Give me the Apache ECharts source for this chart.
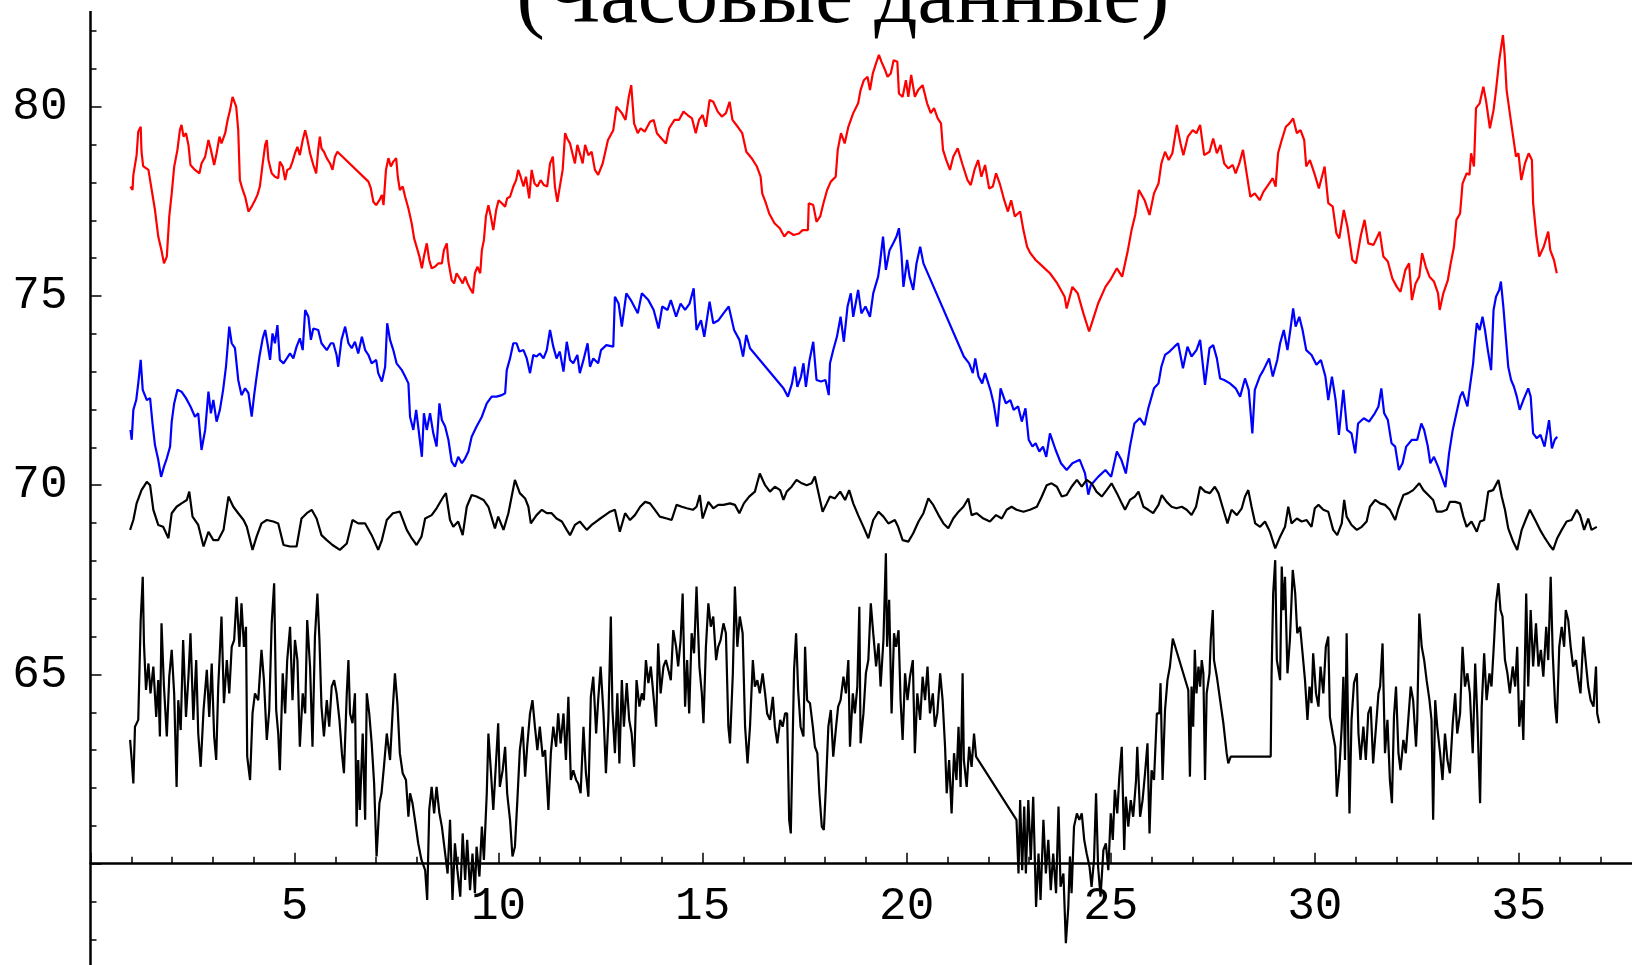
<!DOCTYPE html>
<html>
<head>
<meta charset="utf-8">
<script src="https://cdn.jsdelivr.net/npm/echarts/dist/echarts.min.js"></script>
<style>
html,body{margin:0;padding:0;background:#fff;}
#chart{width:1632px;height:965px;}
</style>
</head>
<body>
<div id="chart"></div>
<script>
const titleText = '(Часовые данные)';
const yTickLabels = [65, 70, 75, 80];
const xTickLabels = [5, 10, 15, 20, 25, 30, 35];

const redSeries = [[0.98,77.89],[1.03,77.8],[1.05,78.2],[1.13,78.72],[1.17,79.34],[1.23,79.47],[1.25,78.81],[1.29,78.43],[1.42,78.33],[1.5,77.8],[1.58,77.27],[1.66,76.57],[1.74,76.2],[1.8,75.86],[1.87,76.04],[1.93,77.1],[1.99,77.71],[2.05,78.41],[2.13,78.86],[2.19,79.38],[2.23,79.52],[2.28,79.21],[2.34,79.3],[2.4,78.99],[2.45,78.46],[2.56,78.33],[2.67,78.24],[2.72,78.5],[2.81,78.68],[2.89,79.12],[2.95,78.86],[3.03,78.46],[3.09,78.77],[3.16,79.21],[3.21,79.03],[3.3,79.3],[3.36,79.65],[3.42,79.91],[3.48,80.26],[3.52,80.31],[3.57,80.0],[3.62,79.38],[3.66,78.06],[3.73,77.8],[3.79,77.62],[3.87,77.23],[3.95,77.36],[4.03,77.53],[4.09,77.67],[4.15,77.89],[4.22,78.5],[4.28,78.99],[4.32,79.12],[4.36,78.59],[4.44,78.24],[4.52,78.15],[4.6,78.11],[4.64,78.55],[4.71,78.42],[4.77,78.06],[4.82,78.33],[4.89,78.37],[4.95,78.55],[5.01,78.77],[5.07,78.94],[5.13,78.72],[5.2,79.12],[5.26,79.38],[5.31,79.16],[5.38,78.77],[5.46,78.46],[5.53,78.24],[5.58,78.86],[5.62,79.21],[5.66,78.9],[5.72,78.81],[5.79,78.64],[5.87,78.5],[5.93,78.33],[5.99,78.68],[6.05,78.81],[6.81,78.02],[6.87,77.84],[6.93,77.49],[7.0,77.4],[7.08,77.53],[7.14,77.67],[7.18,77.4],[7.24,78.33],[7.3,78.64],[7.36,78.42],[7.42,78.55],[7.49,78.64],[7.53,78.15],[7.58,77.8],[7.65,77.89],[7.71,77.62],[7.79,77.31],[7.87,76.92],[7.93,76.52],[7.99,76.3],[8.06,76.04],[8.12,75.73],[8.17,76.04],[8.24,76.39],[8.3,75.95],[8.36,75.73],[8.44,75.77],[8.52,75.86],[8.61,75.86],[8.66,76.21],[8.73,76.39],[8.77,75.91],[8.85,75.42],[8.91,75.33],[8.97,75.6],[9.05,75.46],[9.12,75.33],[9.18,75.51],[9.24,75.33],[9.3,75.2],[9.37,75.07],[9.42,75.6],[9.48,75.77],[9.55,75.6],[9.59,76.21],[9.64,76.48],[9.69,77.1],[9.75,77.4],[9.81,77.1],[9.87,76.74],[9.94,77.27],[10.0,77.53],[10.08,77.45],[10.16,77.36],[10.21,77.58],[10.28,77.62],[10.36,77.89],[10.43,78.06],[10.48,78.33],[10.54,78.15],[10.61,77.89],[10.67,78.15],[10.75,77.58],[10.81,78.33],[10.88,77.97],[10.95,77.89],[11.03,78.06],[11.11,77.93],[11.19,77.89],[11.26,78.5],[11.33,78.68],[11.38,77.89],[11.44,77.49],[11.5,77.89],[11.57,78.33],[11.63,79.3],[11.68,79.16],[11.75,79.03],[11.82,78.72],[11.87,78.5],[11.93,78.99],[11.99,78.77],[12.06,78.5],[12.12,78.99],[12.2,78.72],[12.28,78.81],[12.36,78.33],[12.44,78.2],[12.55,78.5],[12.68,79.12],[12.81,79.38],[12.89,80.0],[13.02,79.83],[13.11,79.65],[13.19,80.26],[13.25,80.57],[13.32,79.56],[13.41,79.3],[13.48,79.43],[13.58,79.34],[13.71,79.6],[13.8,79.65],[13.88,79.3],[13.99,79.16],[14.1,79.03],[14.18,79.43],[14.31,79.65],[14.42,79.65],[14.53,79.87],[14.63,79.78],[14.74,79.69],[14.83,79.3],[14.91,79.65],[15.0,79.78],[15.08,79.47],[15.17,80.18],[15.26,80.13],[15.37,79.87],[15.47,79.74],[15.57,79.83],[15.66,80.13],[15.73,79.65],[15.86,79.47],[15.97,79.3],[16.07,78.81],[16.2,78.64],[16.33,78.42],[16.42,78.15],[16.46,77.71],[16.55,77.45],[16.63,77.18],[16.76,76.92],[16.89,76.79],[17.0,76.57],[17.1,76.7],[17.23,76.61],[17.36,76.65],[17.45,76.74],[17.58,76.74],[17.6,77.45],[17.71,77.4],[17.79,76.96],[17.88,77.1],[17.96,77.45],[18.05,77.8],[18.14,78.02],[18.26,78.15],[18.31,78.86],[18.39,79.3],[18.48,79.03],[18.57,79.47],[18.69,79.83],[18.81,80.09],[18.87,80.44],[18.95,80.7],[19.04,80.79],[19.1,80.44],[19.17,80.88],[19.25,81.15],[19.32,81.37],[19.38,81.19],[19.47,80.97],[19.53,80.79],[19.61,80.88],[19.68,81.23],[19.77,81.19],[19.81,80.35],[19.9,80.26],[19.98,80.7],[20.04,80.26],[20.11,80.84],[20.2,80.26],[20.28,80.44],[20.39,80.57],[20.5,80.09],[20.59,79.83],[20.67,79.96],[20.76,79.69],[20.84,79.56],[20.89,78.86],[20.97,78.59],[21.06,78.33],[21.14,78.68],[21.25,78.9],[21.36,78.5],[21.49,78.06],[21.57,77.93],[21.66,78.33],[21.75,78.59],[21.83,78.15],[21.92,78.46],[22.02,77.84],[22.11,77.89],[22.19,78.24],[22.28,77.97],[22.39,77.53],[22.48,77.23],[22.56,77.53],[22.65,77.1],[22.78,77.23],[22.86,76.74],[22.95,76.3],[23.03,76.13],[23.16,75.95],[23.29,75.82],[23.42,75.69],[23.51,75.6],[23.69,75.33],[23.87,74.98],[23.92,74.67],[24.06,75.24],[24.19,75.07],[24.33,74.54],[24.47,74.06],[24.56,74.36],[24.69,74.8],[24.87,75.24],[25.01,75.46],[25.15,75.73],[25.28,75.51],[25.42,76.21],[25.51,76.74],[25.6,77.14],[25.69,77.8],[25.83,77.53],[25.95,77.14],[26.06,77.71],[26.17,77.97],[26.24,78.5],[26.33,78.81],[26.42,78.59],[26.51,78.77],[26.62,79.52],[26.71,79.03],[26.78,78.72],[26.89,79.21],[27.01,79.38],[27.1,79.3],[27.19,79.52],[27.29,78.72],[27.42,78.81],[27.51,79.16],[27.6,78.77],[27.69,78.99],[27.78,78.5],[27.88,78.37],[27.99,78.46],[28.06,78.24],[28.15,78.5],[28.24,78.86],[28.33,78.24],[28.42,77.62],[28.53,77.71],[28.65,77.53],[28.74,77.75],[28.88,77.97],[28.97,78.11],[29.04,77.89],[29.1,78.77],[29.19,79.12],[29.29,79.47],[29.38,79.56],[29.47,79.69],[29.56,79.3],[29.65,79.38],[29.74,79.12],[29.79,78.42],[29.88,78.59],[29.99,78.24],[30.1,77.84],[30.24,78.42],[30.33,77.45],[30.44,77.36],[30.53,76.65],[30.6,76.52],[30.71,77.27],[30.8,76.83],[30.92,75.95],[31.01,75.86],[31.13,76.61],[31.22,77.01],[31.31,76.39],[31.44,76.35],[31.59,76.7],[31.68,76.04],[31.79,75.91],[31.9,75.46],[32.01,75.24],[32.1,75.11],[32.22,75.69],[32.31,75.86],[32.38,74.89],[32.47,75.33],[32.56,75.51],[32.63,76.13],[32.72,75.77],[32.81,75.51],[32.92,75.38],[33.02,75.07],[33.06,74.63],[33.15,75.07],[33.26,75.42],[33.33,75.86],[33.41,76.3],[33.47,77.01],[33.56,77.18],[33.62,77.97],[33.72,78.24],[33.79,78.2],[33.83,78.77],[33.9,78.42],[33.95,79.96],[34.04,80.09],[34.13,80.53],[34.2,80.13],[34.29,79.43],[34.38,79.91],[34.44,80.44],[34.52,81.23],[34.61,81.89],[34.65,81.41],[34.7,80.44],[34.79,79.74],[34.86,79.21],[34.93,78.68],[34.99,78.77],[35.06,78.06],[35.15,78.5],[35.24,78.77],[35.32,78.59],[35.35,77.45],[35.43,76.57],[35.5,76.04],[35.61,76.3],[35.72,76.7],[35.77,76.21],[35.86,75.95],[35.93,75.6]];

const blueSeries = [[0.98,71.46],[1.01,71.2],[1.05,71.99],[1.12,72.25],[1.17,72.69],[1.23,73.31],[1.28,72.52],[1.38,72.25],[1.46,72.3],[1.52,71.63],[1.58,71.06],[1.66,70.67],[1.73,70.22],[1.8,70.49],[1.87,70.71],[1.95,71.02],[1.99,71.68],[2.05,72.16],[2.13,72.52],[2.23,72.47],[2.34,72.3],[2.45,72.08],[2.56,71.81],[2.64,71.9],[2.72,70.93],[2.81,71.46],[2.89,72.47],[2.95,71.9],[3.01,72.25],[3.09,71.68],[3.17,71.99],[3.25,72.52],[3.32,73.13],[3.4,74.19],[3.46,73.75],[3.54,73.62],[3.62,72.78],[3.7,72.38],[3.79,72.56],[3.87,72.43],[3.95,71.81],[4.01,72.38],[4.07,72.87],[4.14,73.4],[4.22,73.88],[4.28,74.1],[4.33,73.79],[4.4,73.31],[4.46,74.01],[4.52,73.75],[4.58,74.23],[4.64,73.31],[4.73,73.22],[4.81,73.35],[4.89,73.48],[4.97,73.35],[5.05,73.66],[5.13,73.88],[5.2,73.57],[5.26,74.63],[5.34,74.45],[5.4,73.84],[5.46,74.14],[5.58,74.1],[5.66,73.75],[5.79,73.57],[5.89,73.75],[5.95,73.75],[6.03,73.44],[6.07,73.13],[6.15,73.84],[6.24,74.19],[6.32,73.75],[6.4,73.62],[6.48,73.79],[6.56,73.48],[6.65,73.92],[6.73,73.57],[6.81,73.44],[6.89,73.22],[7.0,73.31],[7.05,72.96],[7.14,72.74],[7.22,73.13],[7.27,74.28],[7.34,73.84],[7.42,73.57],[7.5,73.22],[7.63,73.04],[7.71,72.87],[7.79,72.69],[7.83,71.81],[7.91,71.46],[7.98,71.99],[8.06,71.28],[8.12,70.75],[8.17,71.9],[8.24,71.46],[8.32,71.9],[8.4,71.37],[8.48,71.02],[8.55,72.16],[8.61,71.72],[8.69,71.55],[8.77,71.2],[8.85,70.62],[8.93,70.49],[9.01,70.75],[9.1,70.58],[9.18,70.71],[9.26,70.89],[9.34,71.28],[9.46,71.55],[9.59,71.81],[9.71,72.16],[9.83,72.34],[9.95,72.34],[10.08,72.38],[10.16,72.43],[10.2,73.04],[10.28,73.35],[10.36,73.75],[10.44,73.75],[10.51,73.53],[10.61,73.57],[10.69,73.35],[10.77,72.96],[10.85,73.44],[10.93,73.4],[11.01,73.48],[11.1,73.35],[11.18,73.57],[11.26,74.1],[11.34,73.66],[11.42,73.35],[11.5,73.53],[11.59,73.0],[11.67,73.79],[11.75,73.31],[11.83,73.22],[11.93,73.44],[11.99,72.96],[12.08,73.31],[12.18,73.75],[12.24,73.13],[12.32,73.35],[12.44,73.22],[12.51,73.57],[12.64,73.7],[12.81,73.66],[12.85,74.98],[12.94,74.8],[13.02,74.19],[13.13,75.07],[13.24,74.89],[13.41,74.54],[13.51,75.07],[13.67,74.89],[13.8,74.63],[13.92,74.14],[14.01,74.72],[14.14,74.63],[14.22,74.89],[14.35,74.45],[14.46,74.8],[14.57,74.63],[14.68,74.8],[14.78,75.2],[14.85,74.1],[14.96,74.36],[15.04,73.92],[15.17,74.85],[15.26,74.28],[15.39,74.36],[15.51,74.54],[15.64,74.72],[15.77,74.1],[15.9,73.84],[15.99,73.4],[16.07,73.97],[16.16,73.62],[16.98,72.56],[17.09,72.34],[17.19,72.69],[17.26,73.13],[17.32,72.6],[17.41,72.87],[17.47,73.22],[17.53,72.6],[17.62,73.31],[17.71,73.79],[17.79,72.78],[17.9,72.74],[18.01,72.78],[18.09,72.38],[18.12,73.22],[18.2,73.57],[18.29,73.92],[18.38,74.45],[18.46,73.79],[18.55,74.72],[18.63,75.07],[18.69,74.45],[18.81,75.16],[18.89,74.54],[18.99,74.72],[19.1,74.45],[19.18,75.07],[19.3,75.51],[19.34,75.82],[19.42,76.57],[19.49,75.69],[19.58,76.21],[19.67,76.39],[19.75,76.57],[19.81,76.79],[19.87,76.13],[19.92,75.24],[20.01,75.95],[20.07,75.51],[20.16,75.16],[20.24,75.86],[20.33,76.3],[20.41,75.86],[21.4,73.4],[21.53,73.22],[21.62,72.96],[21.68,73.35],[21.76,72.87],[21.85,72.69],[21.92,72.96],[22.05,72.52],[22.13,72.16],[22.22,71.55],[22.3,72.56],[22.43,72.16],[22.54,72.25],[22.62,71.99],[22.73,72.08],[22.82,71.68],[22.91,72.03],[22.99,71.2],[23.08,71.02],[23.16,71.11],[23.25,70.89],[23.34,71.02],[23.42,70.75],[23.51,71.37],[23.65,70.93],[23.78,70.58],[23.92,70.4],[24.06,70.58],[24.24,70.67],[24.37,70.31],[24.45,69.75],[24.51,70.0],[24.69,70.22],[24.87,70.4],[25.01,70.22],[25.15,70.89],[25.26,70.67],[25.37,70.31],[25.47,71.02],[25.58,71.63],[25.71,71.77],[25.83,71.59],[25.92,72.03],[26.06,72.56],[26.17,72.69],[26.24,73.13],[26.33,73.44],[26.44,73.53],[26.56,73.66],[26.65,73.75],[26.77,73.09],[26.88,73.66],[26.98,73.4],[27.1,73.57],[27.19,73.84],[27.31,72.65],[27.42,73.62],[27.51,73.7],[27.6,73.35],[27.68,72.82],[27.78,72.78],[27.92,72.69],[28.06,72.56],[28.17,72.34],[28.29,72.82],[28.38,72.52],[28.47,71.37],[28.53,72.52],[28.65,72.87],[28.74,73.04],[28.88,73.35],[28.97,72.87],[29.08,73.31],[29.15,73.75],[29.24,74.1],[29.33,73.57],[29.4,74.1],[29.47,74.67],[29.53,74.19],[29.62,74.45],[29.7,74.1],[29.79,73.57],[29.92,73.44],[30.04,73.18],[30.15,73.31],[30.26,72.87],[30.33,72.25],[30.42,72.87],[30.51,72.25],[30.59,71.33],[30.7,72.52],[30.79,71.46],[30.9,71.37],[30.99,70.84],[31.06,71.63],[31.2,71.77],[31.33,71.68],[31.47,71.9],[31.56,72.08],[31.63,72.56],[31.7,71.9],[31.79,71.72],[31.88,71.11],[31.97,71.02],[32.06,70.4],[32.15,70.58],[32.24,71.02],[32.38,71.2],[32.51,71.2],[32.61,71.63],[32.68,71.46],[32.77,71.02],[32.83,70.58],[32.92,70.75],[33.02,70.49],[33.11,70.22],[33.2,69.95],[33.29,70.84],[33.38,71.46],[33.47,71.9],[33.56,72.34],[33.62,72.47],[33.74,72.08],[33.79,72.52],[33.88,73.22],[33.92,73.75],[33.97,74.28],[34.04,74.1],[34.11,74.45],[34.17,74.1],[34.24,73.57],[34.32,73.04],[34.38,74.63],[34.44,74.98],[34.52,75.16],[34.56,75.38],[34.62,74.72],[34.68,73.92],[34.74,73.13],[34.81,72.78],[34.88,72.6],[34.95,72.34],[35.02,71.99],[35.11,72.25],[35.23,72.56],[35.29,72.34],[35.35,71.37],[35.44,71.24],[35.53,71.33],[35.63,71.02],[35.74,71.72],[35.81,70.97],[35.88,71.2],[35.94,71.28]];

const upperBlackSeries = [[0.97,68.82],[1.05,69.08],[1.13,69.52],[1.25,69.87],[1.38,70.09],[1.46,70.0],[1.54,69.35],[1.66,68.95],[1.78,68.9],[1.91,68.6],[1.99,69.26],[2.11,69.43],[2.23,69.52],[2.36,69.61],[2.42,69.83],[2.5,69.17],[2.64,68.95],[2.77,68.38],[2.89,68.77],[3.01,68.55],[3.13,68.55],[3.26,68.82],[3.38,69.7],[3.5,69.43],[3.62,69.26],[3.75,69.08],[3.83,68.9],[3.97,68.29],[4.07,68.64],[4.19,68.99],[4.32,69.08],[4.48,69.04],[4.6,68.99],[4.73,68.42],[4.89,68.38],[5.05,68.38],[5.17,69.12],[5.3,69.26],[5.42,69.35],[5.54,69.12],[5.66,68.68],[5.79,68.55],[5.93,68.42],[6.11,68.29],[6.28,68.46],[6.42,69.08],[6.56,68.99],[6.73,68.99],[6.89,68.68],[7.05,68.29],[7.14,68.55],[7.26,69.08],[7.41,69.26],[7.58,69.3],[7.75,68.82],[7.87,68.6],[7.99,68.42],[8.11,68.64],[8.2,69.12],[8.36,69.21],[8.48,69.39],[8.65,69.7],[8.71,69.79],[8.81,69.08],[8.89,68.9],[9.01,69.04],[9.12,68.68],[9.22,69.43],[9.34,69.74],[9.46,69.7],[9.63,69.61],[9.75,69.43],[9.91,68.86],[9.99,69.17],[10.12,68.82],[10.24,69.26],[10.32,69.7],[10.4,70.14],[10.52,69.79],[10.65,69.65],[10.73,69.43],[10.79,68.99],[10.93,69.21],[11.06,69.35],[11.18,69.26],[11.3,69.26],[11.42,69.12],[11.55,69.04],[11.67,68.82],[11.75,68.68],[11.87,68.95],[11.99,69.04],[12.16,68.82],[12.28,68.95],[12.44,69.08],[12.61,69.21],[12.73,69.3],[12.85,69.35],[12.97,68.77],[13.1,69.26],[13.22,69.08],[13.34,69.21],[13.47,69.43],[13.59,69.56],[13.71,69.52],[13.83,69.35],[13.95,69.17],[14.12,69.12],[14.24,69.08],[14.36,69.48],[14.49,69.43],[14.61,69.39],[14.76,69.35],[14.85,69.43],[14.93,69.74],[15.0,69.12],[15.14,69.56],[15.26,69.39],[15.38,69.48],[15.51,69.48],[15.67,69.52],[15.79,69.48],[15.9,69.26],[16.01,69.52],[16.14,69.7],[16.28,69.83],[16.4,70.31],[16.53,70.0],[16.65,69.83],[16.77,69.96],[16.9,69.87],[16.98,69.61],[17.06,69.83],[17.18,69.96],[17.3,70.14],[17.43,70.05],[17.55,70.0],[17.67,70.05],[17.75,70.23],[17.84,69.79],[17.94,69.3],[18.04,69.52],[18.12,69.7],[18.24,69.65],[18.37,69.83],[18.49,69.61],[18.59,69.87],[18.69,69.52],[18.81,69.21],[18.94,68.9],[19.06,68.6],[19.18,69.08],[19.31,69.3],[19.43,69.17],[19.55,68.99],[19.71,69.08],[19.79,68.9],[19.9,68.55],[20.04,68.51],[20.16,68.73],[20.29,69.04],[20.41,69.26],[20.53,69.65],[20.65,69.48],[20.78,69.21],[20.9,68.99],[21.02,68.86],[21.14,69.12],[21.27,69.3],[21.39,69.43],[21.51,69.65],[21.59,69.21],[21.71,69.26],[21.88,69.12],[22.04,69.04],[22.19,69.21],[22.33,69.12],[22.45,69.35],[22.57,69.43],[22.69,69.35],[22.86,69.3],[23.02,69.35],[23.19,69.43],[23.31,69.7],[23.43,70.0],[23.55,70.05],[23.68,69.96],[23.8,69.7],[23.92,69.74],[24.04,69.96],[24.17,70.14],[24.29,69.96],[24.41,70.14],[24.53,70.05],[24.65,69.83],[24.78,69.7],[24.9,69.87],[25.02,70.05],[25.15,69.79],[25.27,69.52],[25.35,69.35],[25.47,69.61],[25.59,69.7],[25.68,69.83],[25.8,69.43],[25.92,69.35],[26.04,69.26],[26.17,69.48],[26.25,69.74],[26.37,69.56],[26.49,69.43],[26.61,69.39],[26.74,69.43],[26.86,69.35],[26.98,69.21],[27.09,69.43],[27.19,69.96],[27.31,69.83],[27.43,69.79],[27.55,69.96],[27.64,69.79],[27.76,69.35],[27.86,68.99],[27.96,69.35],[28.09,69.21],[28.21,69.39],[28.29,69.7],[28.37,69.87],[28.45,69.43],[28.54,68.99],[28.66,68.9],[28.78,69.04],[28.9,68.77],[29.03,68.33],[29.15,68.64],[29.27,68.9],[29.35,69.43],[29.43,68.99],[29.56,69.12],[29.68,69.04],[29.8,69.08],[29.92,68.9],[30.0,69.39],[30.09,69.48],[30.21,69.35],[30.33,69.3],[30.45,68.82],[30.55,68.68],[30.66,68.99],[30.72,69.61],[30.78,69.17],[30.9,68.95],[31.03,68.82],[31.15,68.9],[31.27,69.04],[31.35,69.43],[31.48,69.61],[31.6,69.52],[31.72,69.48],[31.84,69.35],[31.97,69.08],[32.05,69.39],[32.17,69.74],[32.29,69.79],[32.41,69.87],[32.56,70.05],[32.66,69.87],[32.78,69.74],[32.9,69.61],[32.99,69.3],[33.11,69.3],[33.23,69.35],[33.31,69.56],[33.44,69.56],[33.56,69.52],[33.64,69.17],[33.72,68.9],[33.84,69.04],[33.97,68.77],[34.05,69.04],[34.15,69.08],[34.25,69.83],[34.37,69.87],[34.5,70.14],[34.58,69.7],[34.66,69.35],[34.74,68.86],[34.86,68.51],[34.96,68.29],[35.07,68.82],[35.18,69.12],[35.27,69.35],[35.4,69.08],[35.52,68.82],[35.64,68.6],[35.75,68.42],[35.84,68.29],[35.94,68.6],[36.05,68.82],[36.17,69.04],[36.29,69.08],[36.42,69.35],[36.5,69.21],[36.6,68.82],[36.7,69.12],[36.78,68.82],[36.91,68.9]];

const lowerBlackSeries = [[0.97,63.27],[1.01,62.74],[1.05,62.12],[1.09,63.62],[1.17,63.8],[1.23,66.44],[1.28,67.58],[1.31,65.82],[1.36,64.59],[1.42,65.29],[1.47,64.5],[1.54,65.21],[1.61,63.88],[1.66,64.85],[1.7,63.36],[1.74,66.35],[1.8,64.68],[1.87,63.36],[1.93,64.94],[1.99,65.65],[2.05,64.5],[2.11,62.03],[2.15,64.32],[2.21,63.53],[2.27,65.91],[2.34,63.88],[2.4,64.94],[2.45,66.09],[2.52,63.8],[2.59,65.38],[2.64,63.44],[2.7,62.56],[2.77,64.06],[2.85,65.12],[2.91,63.88],[2.97,65.29],[3.03,63.36],[3.08,62.74],[3.13,64.68],[3.21,66.53],[3.27,64.24],[3.34,65.38],[3.4,64.5],[3.46,65.73],[3.52,65.91],[3.58,67.05],[3.65,65.73],[3.7,66.88],[3.76,65.73],[3.81,66.26],[3.84,62.83],[3.91,62.21],[3.97,63.97],[4.03,64.5],[4.11,64.32],[4.19,65.65],[4.25,64.85],[4.32,63.27],[4.38,64.06],[4.44,66.35],[4.5,67.41],[4.55,64.06],[4.6,63.44],[4.64,62.47],[4.71,65.03],[4.77,63.97],[4.82,65.38],[4.89,66.26],[4.95,64.32],[5.01,65.91],[5.07,65.38],[5.13,63.09],[5.2,64.5],[5.26,63.97],[5.31,66.44],[5.38,65.21],[5.44,63.09],[5.5,66.0],[5.56,67.14],[5.61,65.91],[5.66,64.15],[5.72,63.36],[5.79,64.32],[5.85,63.62],[5.91,64.68],[5.97,64.85],[6.03,64.5],[6.1,63.8],[6.16,62.92],[6.21,62.39],[6.28,64.5],[6.32,65.38],[6.36,63.97],[6.42,63.71],[6.48,64.5],[6.52,60.98],[6.56,62.74],[6.6,61.42],[6.67,63.44],[6.73,61.16],[6.77,64.5],[6.83,63.97],[6.89,63.18],[6.95,62.12],[7.01,60.19],[7.08,61.6],[7.13,61.86],[7.19,62.56],[7.26,63.44],[7.34,62.74],[7.41,64.15],[7.46,65.03],[7.52,64.24],[7.58,62.92],[7.65,62.39],[7.73,62.21],[7.79,61.24],[7.83,61.86],[7.89,61.6],[7.95,61.16],[8.03,60.54],[8.11,60.1],[8.2,59.83],[8.25,59.04],[8.3,61.42],[8.36,62.03],[8.42,61.33],[8.48,62.03],[8.55,61.33],[8.61,60.98],[8.69,60.27],[8.75,59.74],[8.81,61.16],[8.87,59.04],[8.93,60.54],[8.99,59.83],[9.06,59.13],[9.12,60.8],[9.18,59.57],[9.23,60.63],[9.3,59.3],[9.36,60.27],[9.42,59.22],[9.46,60.45],[9.53,59.66],[9.59,60.98],[9.64,60.1],[9.71,61.86],[9.75,63.44],[9.81,62.47],[9.87,61.42],[9.94,62.74],[9.99,63.71],[10.03,62.03],[10.1,62.47],[10.16,63.09],[10.21,61.86],[10.28,61.16],[10.34,60.19],[10.4,60.45],[10.46,61.68],[10.52,63.0],[10.59,63.62],[10.65,62.3],[10.7,63.09],[10.77,63.97],[10.83,64.32],[10.89,63.62],[10.95,63.0],[11.01,63.62],[11.08,62.83],[11.14,63.0],[11.22,61.42],[11.28,62.92],[11.34,63.62],[11.41,63.09],[11.46,63.97],[11.52,63.18],[11.59,63.97],[11.65,62.74],[11.71,64.41],[11.77,62.21],[11.83,62.47],[11.9,62.21],[11.95,62.12],[12.01,61.86],[12.08,63.62],[12.14,62.39],[12.2,61.77],[12.26,64.41],[12.32,64.94],[12.39,63.44],[12.44,64.32],[12.5,65.21],[12.57,63.97],[12.63,62.39],[12.69,63.8],[12.75,66.53],[12.79,64.06],[12.85,62.92],[12.91,64.5],[12.96,62.65],[13.02,64.85],[13.07,63.62],[13.14,64.77],[13.2,63.8],[13.26,63.44],[13.32,62.56],[13.38,64.85],[13.45,64.15],[13.51,64.5],[13.56,64.32],[13.61,65.38],[13.67,64.77],[13.73,65.21],[13.79,64.5],[13.86,63.62],[13.91,65.82],[13.97,64.5],[14.04,65.21],[14.1,65.38],[14.16,65.12],[14.22,64.85],[14.28,66.17],[14.35,65.73],[14.4,65.21],[14.46,65.91],[14.51,67.14],[14.57,64.15],[14.62,65.38],[14.67,63.97],[14.73,66.09],[14.79,65.56],[14.85,67.32],[14.92,65.21],[14.98,64.5],[15.02,63.71],[15.08,65.73],[15.14,66.88],[15.2,66.26],[15.26,66.53],[15.33,65.38],[15.38,65.73],[15.44,65.91],[15.51,66.35],[15.57,66.09],[15.63,63.62],[15.67,63.18],[15.74,65.03],[15.79,67.32],[15.85,65.73],[15.91,66.53],[15.98,66.09],[16.04,63.62],[16.1,62.65],[16.16,63.62],[16.23,65.38],[16.28,64.68],[16.34,64.85],[16.4,64.5],[16.47,65.03],[16.53,64.5],[16.58,63.97],[16.65,63.8],[16.72,64.41],[16.77,63.62],[16.83,63.18],[16.9,63.8],[16.96,63.62],[17.02,63.97],[17.07,63.97],[17.12,61.16],[17.16,60.8],[17.19,62.39],[17.24,65.12],[17.29,66.09],[17.34,64.59],[17.4,63.62],[17.47,63.36],[17.51,65.73],[17.56,64.32],[17.63,64.24],[17.7,63.62],[17.75,63.09],[17.81,62.92],[17.86,61.86],[17.92,60.98],[17.97,60.89],[18.02,62.03],[18.08,63.62],[18.14,64.06],[18.2,62.83],[18.27,63.62],[18.32,64.15],[18.38,64.32],[18.45,64.94],[18.51,64.5],[18.57,65.38],[18.61,63.09],[18.68,64.5],[18.73,63.97],[18.79,64.68],[18.84,66.79],[18.87,63.18],[18.94,63.97],[19.0,65.03],[19.06,65.38],[19.12,66.88],[19.18,66.09],[19.25,65.21],[19.31,65.82],[19.36,64.68],[19.43,65.91],[19.49,68.2],[19.52,65.73],[19.57,66.97],[19.63,63.97],[19.69,66.09],[19.74,65.73],[19.8,66.17],[19.85,64.32],[19.9,63.27],[19.96,65.03],[20.02,64.32],[20.08,64.94],[20.15,65.38],[20.2,62.92],[20.26,64.5],[20.33,63.8],[20.39,64.94],[20.45,64.32],[20.51,65.21],[20.57,63.97],[20.64,64.5],[20.69,63.62],[20.75,63.97],[20.82,65.03],[20.88,64.32],[20.94,63.09],[20.98,61.86],[21.04,62.74],[21.1,61.33],[21.16,62.92],[21.22,62.21],[21.27,63.62],[21.32,62.03],[21.37,65.03],[21.4,62.74],[21.47,62.03],[21.53,63.09],[21.59,62.56],[21.65,63.44],[21.7,62.83],[22.69,61.16],[22.74,59.74],[22.78,61.68],[22.83,59.83],[22.88,61.51],[22.92,59.74],[22.98,61.68],[23.04,60.1],[23.1,61.77],[23.17,58.86],[23.23,60.27],[23.28,59.04],[23.35,61.16],[23.41,59.74],[23.47,60.63],[23.53,59.3],[23.59,60.27],[23.66,59.22],[23.72,61.51],[23.77,59.39],[23.84,59.74],[23.9,57.9],[23.96,58.86],[24.0,60.19],[24.04,59.22],[24.1,60.98],[24.17,61.33],[24.23,61.16],[24.29,61.33],[24.35,60.63],[24.41,60.27],[24.48,59.92],[24.53,59.39],[24.59,60.1],[24.64,61.86],[24.69,59.92],[24.75,59.13],[24.82,60.36],[24.88,60.54],[24.94,59.83],[25.0,61.33],[25.05,60.63],[25.1,61.95],[25.16,61.33],[25.21,62.3],[25.27,63.09],[25.33,60.36],[25.37,61.77],[25.43,60.98],[25.49,61.68],[25.55,61.24],[25.62,62.21],[25.65,63.09],[25.72,61.24],[25.78,61.68],[25.84,62.39],[25.9,63.18],[25.95,60.8],[26.0,62.47],[26.06,62.21],[26.13,63.97],[26.19,63.97],[26.22,64.77],[26.27,62.21],[26.33,64.06],[26.39,64.85],[26.45,65.21],[26.52,65.95],[26.9,64.59],[26.94,62.3],[26.98,64.68],[27.02,63.62],[27.06,65.65],[27.1,64.5],[27.15,65.21],[27.19,64.68],[27.23,65.38],[27.27,65.03],[27.31,62.21],[27.35,64.5],[27.42,65.03],[27.45,65.91],[27.5,66.7],[27.53,65.38],[27.6,64.94],[27.68,64.32],[27.76,63.71],[27.84,62.92],[27.88,62.65],[27.94,62.83],[28.92,62.83],[28.94,64.94],[28.98,67.14],[29.03,68.02],[29.07,65.38],[29.15,64.85],[29.19,67.85],[29.23,66.7],[29.27,67.58],[29.33,65.03],[29.39,65.91],[29.46,67.76],[29.52,67.14],[29.57,66.09],[29.64,66.26],[29.7,65.56],[29.76,64.85],[29.82,63.8],[29.87,64.68],[29.92,64.24],[29.96,65.56],[30.03,64.5],[30.09,64.15],[30.14,65.21],[30.21,64.5],[30.27,65.73],[30.33,66.0],[30.37,63.88],[30.44,63.44],[30.5,63.09],[30.54,61.77],[30.6,62.47],[30.66,63.62],[30.7,64.94],[30.74,62.74],[30.78,66.09],[30.85,61.33],[30.9,63.8],[30.96,64.77],[31.03,65.03],[31.07,63.44],[31.12,62.74],[31.19,63.62],[31.25,62.74],[31.31,63.97],[31.37,64.15],[31.43,62.65],[31.5,63.62],[31.56,64.5],[31.6,64.68],[31.66,65.82],[31.72,62.92],[31.78,63.8],[31.84,62.21],[31.89,61.6],[31.94,63.88],[31.99,64.68],[32.05,62.92],[32.1,62.47],[32.17,63.27],[32.23,62.92],[32.29,63.8],[32.35,64.68],[32.41,64.32],[32.48,63.09],[32.51,63.8],[32.56,66.61],[32.62,65.73],[32.68,65.38],[32.74,64.85],[32.81,64.32],[32.86,63.8],[32.9,61.16],[32.95,64.32],[33.0,63.62],[33.07,62.92],[33.13,62.21],[33.19,63.44],[33.25,62.74],[33.31,62.39],[33.38,63.71],[33.44,64.5],[33.49,63.44],[33.56,63.97],[33.62,65.73],[33.68,64.68],[33.74,65.03],[33.8,64.5],[33.87,62.92],[33.93,65.29],[33.98,63.97],[34.05,61.6],[34.09,64.15],[34.15,65.56],[34.21,64.32],[34.28,65.03],[34.33,64.68],[34.39,65.82],[34.44,66.88],[34.5,67.41],[34.55,66.7],[34.6,66.53],[34.66,65.38],[34.72,65.03],[34.78,64.5],[34.85,65.21],[34.91,64.68],[34.96,65.73],[35.01,63.62],[35.07,64.32],[35.11,63.27],[35.18,67.14],[35.23,64.68],[35.29,66.7],[35.35,65.21],[35.42,66.35],[35.48,65.21],[35.54,65.65],[35.6,64.94],[35.67,66.26],[35.72,65.38],[35.78,67.58],[35.83,65.56],[35.89,64.15],[35.93,63.71],[35.99,65.73],[36.05,66.26],[36.11,65.73],[36.15,66.7],[36.21,66.44],[36.27,65.73],[36.33,65.21],[36.4,65.38],[36.46,64.85],[36.51,64.5],[36.58,66.0],[36.65,65.21],[36.7,64.68],[36.76,64.32],[36.83,64.15],[36.89,65.21],[36.92,63.97],[36.97,63.71]];

const tickFont = 'Liberation Mono';
const chart = echarts.init(document.getElementById('chart'), null, {renderer: 'canvas'});

function lineSeries(name, data, color) {
  return {
    name: name, type: 'line', xAxisIndex: 0, yAxisIndex: 0,
    data: data, showSymbol: false, symbol: 'none', silent: true,
    lineStyle: {color: color, width: 2.2}, clip: false
  };
}

const axisColor = '#000';
const option = {
  animation: false,
  backgroundColor: '#ffffff',
  grid: [
    {left: 90.5, right: -90.9, top: -82.55, bottom: -87.95, outerBoundsMode: 'none', containLabel: false},
    {left: 90.5, right: -90.9, top: 400, bottom: 101.3, outerBoundsMode: 'none', containLabel: false}
  ],
  xAxis: [
    {gridIndex: 0, type: 'value', min: 0, max: 40, show: false},
    {gridIndex: 1, type: 'value', min: 0, max: 40, interval: 5,
      axisLine: {show: true, onZero: false, lineStyle: {color: axisColor, width: 2.5}},
      axisTick: {show: true, inside: true, length: 11, lineStyle: {color: axisColor, width: 1.5}},
      minorTick: {show: true, splitNumber: 5, length: 7, lineStyle: {color: axisColor, width: 1.5}},
      splitLine: {show: false},
      axisLabel: {show: true, margin: 20, color: '#000', fontFamily: tickFont, fontSize: 46,
        formatter: function (v) { return xTickLabels.indexOf(v) >= 0 ? String(v) : ''; }}
    }
  ],
  yAxis: [
    {gridIndex: 0, type: 'value', min: 55, max: 85, interval: 5,
      axisLine: {show: true, onZero: false, lineStyle: {color: axisColor, width: 2.5}},
      axisTick: {show: true, inside: true, length: 11, lineStyle: {color: axisColor, width: 1.5}},
      minorTick: {show: true, splitNumber: 5, length: 6, lineStyle: {color: axisColor, width: 1.5}},
      splitLine: {show: false},
      axisLabel: {show: true, margin: 23, color: '#000', fontFamily: tickFont, fontSize: 46,
        formatter: function (v) { return yTickLabels.indexOf(v) >= 0 ? String(v) : ''; }}
    },
    {gridIndex: 1, type: 'value', min: 0, max: 1, show: false}
  ],
  graphic: {elements: [
    {type: 'rect', z: 100, shape: {x: 82, y: 0, width: 16, height: 11}, style: {fill: '#ffffff'}},
    {type: 'text', z: 100, x: 843, y: 0,
      style: {text: titleText, fill: '#000', fontFamily: 'Liberation Serif', fontSize: 85,
        align: 'center', verticalAlign: 'middle'}}
  ]},
  series: [
    lineSeries('red', redSeries, '#ff0000'),
    lineSeries('blue', blueSeries, '#0000ff'),
    lineSeries('upper', upperBlackSeries, '#000000'),
    lineSeries('lower', lowerBlackSeries, '#000000')
  ]
};
chart.setOption(option);
</script>
</body>
</html>
